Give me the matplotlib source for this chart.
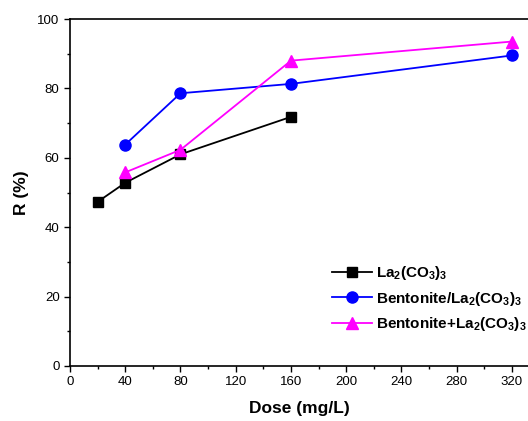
import matplotlib
matplotlib.use("Agg")
import matplotlib.pyplot as plt
from matplotlib.ticker import MultipleLocator

plt.rcParams['font.family'] = ['Liberation Sans', 'DejaVu Sans']
plt.rcParams['mathtext.fontset'] = 'custom'
plt.rcParams['mathtext.rm'] = 'Liberation Sans:bold'
plt.rcParams['mathtext.default'] = 'rm'

dose_la = [20, 40, 80, 160]
r_la = [47.3, 52.8, 61.0, 71.8]
dose_bent_slash = [40, 80, 160, 320]
r_bent_slash = [63.8, 78.6, 81.3, 89.5]
dose_bent_plus = [40, 80, 160, 320]
r_bent_plus = [55.8, 62.3, 88.0, 93.5]

labels = [r'La$_2$(CO$_3$)$_3$', r'Bentonite/La$_2$(CO$_3$)$_3$', r'Bentonite+La$_2$(CO$_3$)$_3$']

fig = plt.figure(figsize=(5.28, 4.21), dpi=100)
ax = fig.add_axes([70/528, 55/421, 1 - 70/528, (366-19)/421])

ax.plot(dose_la, r_la, color='black', marker='s', markersize=7, lw=1.3, label=labels[0])
ax.plot(dose_bent_slash, r_bent_slash, color='#0000ff', marker='o', markersize=8, lw=1.3, label=labels[1])
ax.plot(dose_bent_plus, r_bent_plus, color='#ff00ff', marker='^', markersize=9, lw=1.3, label=labels[2])

ax.set_xlim(0, 331.6)
ax.set_ylim(0, 100)
ax.xaxis.set_major_locator(MultipleLocator(40))
ax.xaxis.set_minor_locator(MultipleLocator(20))
ax.yaxis.set_major_locator(MultipleLocator(20))
ax.yaxis.set_minor_locator(MultipleLocator(10))
ax.tick_params(which='major', direction='out', length=4, width=1, labelsize=9.5, colors='black')
ax.tick_params(which='minor', direction='out', length=2, width=1)
ax.spines['right'].set_visible(False)
for s in ['left', 'bottom', 'top']:
    ax.spines[s].set_linewidth(1.2)

ax.set_xlabel('Dose (mg/L)', fontsize=12.5, fontweight='bold', labelpad=9)
ax.set_ylabel('R (%)', fontsize=12.5, fontweight='bold', labelpad=6)

leg = ax.legend(loc='upper left', bbox_to_anchor=(0.572, 0.294), frameon=False,
                prop={'size': 11, 'weight': 'bold'}, handlelength=2.6,
                handletextpad=0.3, labelspacing=0.5, borderaxespad=0, borderpad=0)

fig.savefig('out.png', dpi=100)
